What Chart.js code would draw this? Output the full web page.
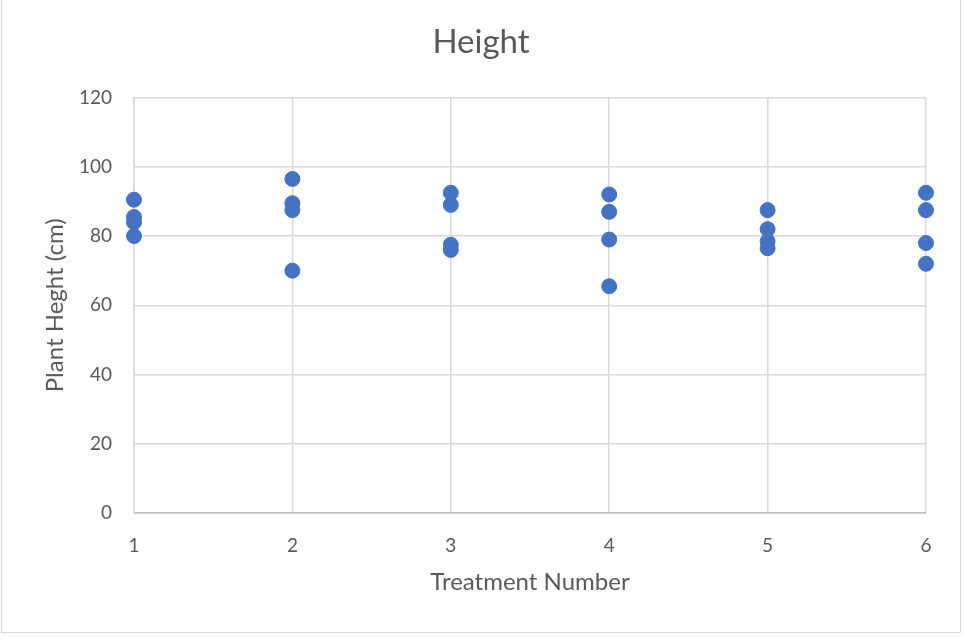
<!DOCTYPE html>
<html>
<head>
<meta charset="utf-8">
<script src="https://cdn.jsdelivr.net/npm/chart.js@4/dist/chart.umd.min.js"></script>
<style>
  body { margin: 0; background: #fff; }
  #wrap { position: relative; width: 962px; height: 639px; }
  #frame { position: absolute; left: 1px; top: -1px; width: 960px; height: 634px; box-sizing: border-box; border: 1.5px solid #d9d9d9; pointer-events: none; }
</style>
</head>
<body>
<div id="wrap">
  <canvas id="heightChart" width="962" height="639"></canvas>
  <div id="frame"></div>
</div>
<script>
// treatment numbers and plant heights (cm), four plants per treatment
const treatments = [1, 2, 3, 4, 5, 6];
const heights1 = [90.5, 85.5, 84, 80];
const heights2 = [96.5, 89.5, 87.5, 70];
const heights3 = [92.5, 89, 77.5, 76];
const heights4 = [92, 87, 79, 65.5];
const heights5 = [87.5, 82, 78.5, 76.5];
const heights6 = [92.5, 87.5, 78, 72];
const yTicks = [0, 20, 40, 60, 80, 100, 120];

const allHeights = [heights1, heights2, heights3, heights4, heights5, heights6];
const points = [];
allHeights.forEach((list, i) => {
    list.forEach(h => points.push({ x: treatments[i], y: h }));
});

const fontFamily = 'Lato, "Open Sans", sans-serif';
const grey = '#595959';

const ctx = document.getElementById('heightChart').getContext('2d');
window.heightChart = new Chart(ctx, {
    type: 'scatter',
    data: {
        datasets: [{
            label: 'Height',
            data: points,
            backgroundColor: '#4472C4',
            borderColor: '#4472C4',
            pointRadius: 7.5,
            pointHoverRadius: 7.5,
            clip: false
        }]
    },
    options: {
        responsive: false,
        animation: false,
        layout: { padding: 0 },
        plugins: {
            legend: { display: false },
            tooltip: { enabled: false },
            title: {
                display: true,
                text: 'Height',
                color: grey,
                font: { family: fontFamily, size: 33, weight: 'normal' },
                padding: { top: 23, bottom: 35 }
            }
        },
        scales: {
            x: {
                type: 'linear',
                min: 1,
                max: 6,
                afterBuildTicks: scale => { scale.ticks = treatments.map(v => ({ value: v })); },
                afterFit: scale => { scale.height = 126; },
                grid: { color: '#d9d9d9', lineWidth: 1.5, drawTicks: false },
                border: { color: '#bfbfbf', width: 1.5 },
                ticks: { color: grey, padding: 21, font: { family: fontFamily, size: 19 } },
                title: {
                    display: true,
                    text: 'Treatment Number',
                    color: grey,
                    font: { family: fontFamily, size: 24 },
                    padding: { top: 0, bottom: 42 }
                }
            },
            y: {
                min: 0,
                max: 120,
                afterBuildTicks: scale => { scale.ticks = yTicks.map(v => ({ value: v })); },
                afterFit: scale => { scale.width = 134; },
                grid: { color: '#d9d9d9', lineWidth: 1.5, drawTicks: false },
                border: { color: '#d9d9d9', width: 1.5 },
                ticks: { color: grey, padding: 22, font: { family: fontFamily, size: 19 } },
                title: {
                    display: true,
                    text: 'Plant Heght (cm)',
                    color: grey,
                    font: { family: fontFamily, size: 24 },
                    padding: { top: 41, bottom: 0 }
                }
            },
            // empty axis on the right, only to keep the plot edge at 926px
            yRight: {
                position: 'right',
                min: 0,
                max: 120,
                afterFit: scale => { scale.width = 36; },
                grid: { display: false },
                border: { display: false },
                ticks: { display: false }
            }
        }
    }
});
</script>
</body>
</html>
